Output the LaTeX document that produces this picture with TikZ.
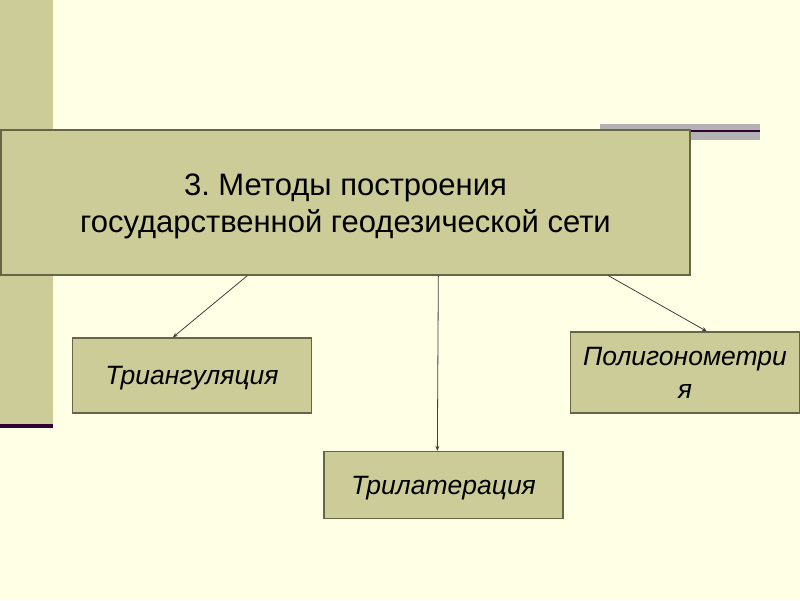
\documentclass[tikz,border=0pt]{standalone}
\usepackage{fontspec}
\setmainfont{Liberation Sans}
\usetikzlibrary{arrows.meta,calc}
\definecolor{bgc}{RGB}{255,255,229}
\definecolor{boxc}{RGB}{204,204,153}
\definecolor{edgec}{RGB}{102,102,68}
\definecolor{purp}{RGB}{51,0,51}
\definecolor{greyband}{RGB}{178,178,178}
\tikzset{
  mbox/.style={draw=edgec, line width=1.3pt, fill=boxc, inner sep=0pt, align=center},
  conn/.style={draw=black!75, line width=0.8pt, -{Stealth[length=5pt,width=4pt]}}
}
\frenchspacing
\begin{document}
\begin{tikzpicture}[x=1pt,y=-1pt]
\useasboundingbox (0,0) rectangle (800,600);
\fill[bgc] (0,0) rectangle (800,600);
% left bar
\fill[boxc] (0,0) rectangle (53,424);
\fill[purp] (0,424) rectangle (53,428);
% top-right decoration
\fill[greyband] (600,124) rectangle (760,140);
\fill[purp] (690,130) rectangle (760,132);
% main box
\node[mbox, minimum width=689pt, minimum height=145pt,
  label={[font=\fontsize{31}{37}\selectfont, align=center, yshift=-4pt]center:3. Методы построения\\государственной геодезической сети}] (main) at (345.5,202.5) {};
\node[mbox, minimum width=239pt, minimum height=75pt, font=\fontsize{26.5}{30}\selectfont\itshape] (tri) at (192,375.5) {\raisebox{-3pt}[\height][\depth]{Триангуляция}};
\node[mbox, minimum width=239pt, minimum height=67pt, font=\fontsize{26.5}{30}\selectfont\itshape] (tril) at (443.5,485) {\raisebox{-3pt}[\height][\depth]{Трилатерация}};
\node[mbox, minimum width=229pt, minimum height=81pt, font=\fontsize{26.5}{33}\selectfont\itshape] (poly) at (685,372.5) {Полигонометри\\я};
% connectors
\draw[conn] ($(main.south west)+(247,0)$) -- ($(tri.north west)+(101,0)$);
\draw[conn] ($(main.south west)+(438,0)$) -- ($(tril.north west)+(114,0)$);
\draw[conn] ($(main.south west)+(608,0)$) -- ($(poly.north west)+(137,0)$);
\end{tikzpicture}
\end{document}
